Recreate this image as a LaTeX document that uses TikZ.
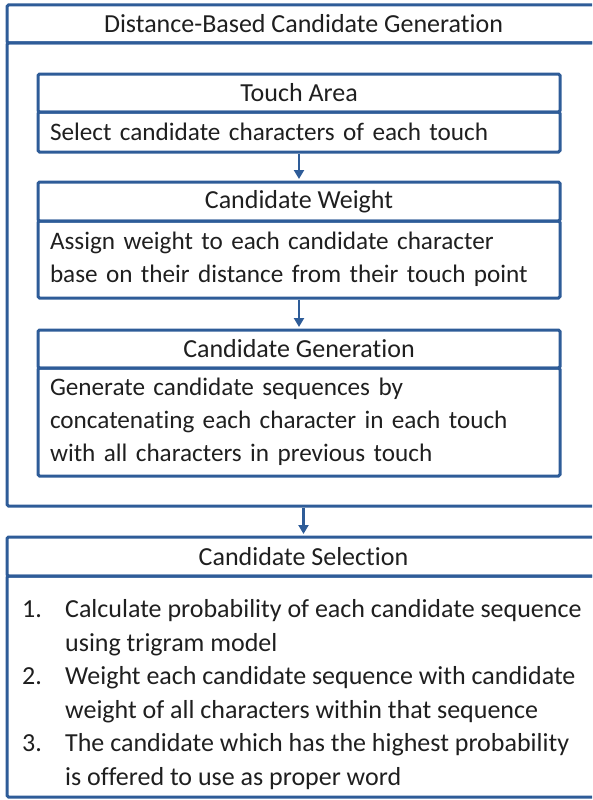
\documentclass[tikz,border=0pt]{standalone}
\usepackage{fontspec}
\setmainfont[Ligatures=NoCommon]{Carlito}
\usetikzlibrary{arrows.meta}
\definecolor{bdr}{HTML}{2E5C98}
\definecolor{txt}{HTML}{1F1F1F}
\begin{document}
\begin{tikzpicture}[x=1pt,y=1pt,
  box/.style={draw=bdr,line width=3pt,rectangle,rounded corners=1.5pt,inner sep=0pt,text=txt,font=\fontsize{26}{33}\selectfont},
  inner/.style={box,minimum width=522pt},
  outer/.style={box,minimum width=593pt},
  bodytext/.style={box,inner xsep=12pt,text width=498pt,align=left,font=\fontsize{25.2}{33}\selectfont},
  arr/.style={draw=bdr,line width=2.5pt,shorten >=1.5pt,-{Triangle[width=10pt,length=9pt]}}]
\clip (0,0) rectangle (592,-800);
% outer box
\node[outer,minimum height=463pt] (obb) at (303.5,-274.5) {};
\node[outer,minimum height=38pt] (ob) at (303.5,-24) {Distance-Based Candidate Generation};
% Touch Area
\node[inner,minimum height=38pt] (ta) at (299,-93) {Touch Area};
\node[bodytext,minimum height=40pt] (tab) at (299,-132) {Select candidate characters of each touch};
% Candidate Weight
\node[inner,minimum height=39pt] (cw) at (299,-201.5) {Candidate Weight};
\node[bodytext,minimum height=77pt] (cwb) at (299,-259.5) {Assign weight to each candidate character\\base on their distance from their touch point};
% Candidate Generation
\node[inner,minimum height=38pt] (cg) at (299,-349) {Candidate Generation};
\node[bodytext,minimum height=108pt] (cgb) at (299,-422) {Generate candidate sequences by\\concatenating each character in each touch\\with all characters in previous touch};
% Candidate Selection
\node[outer,minimum height=221pt] (csb) at (303.5,-686.5) {};
\node[outer,minimum height=39pt] (cs) at (303.5,-556.5) {Candidate Selection};
\node[anchor=west,inner sep=0pt,text=txt,font=\fontsize{26}{33.5}\selectfont] (list) at (22,-695) {%
\begin{tabular}{@{}p{43pt}@{}l@{}}
1. & Calculate probability of each candidate sequence\\
   & using trigram model\\
2. & Weight each candidate sequence with candidate\\
   & weight of all characters within that sequence\\
3. & The candidate which has the highest probability\\
   & is offered to use as proper word
\end{tabular}};
% arrows
\draw[arr] (tab.south) -- (cw.north);
\draw[arr] (cwb.south) -- (cg.north);
\draw[arr] (obb.south) -- (cs.north);
\end{tikzpicture}
\end{document}
